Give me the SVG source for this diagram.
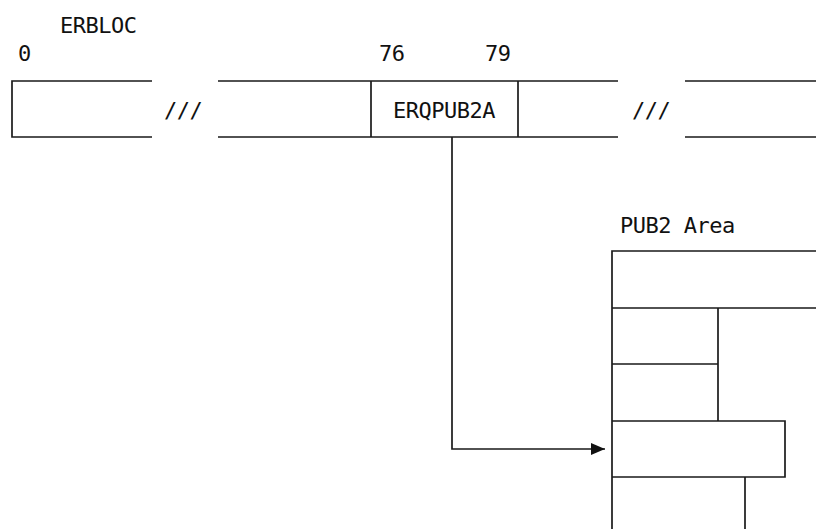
<svg xmlns="http://www.w3.org/2000/svg" width="816" height="529" viewBox="0 0 816 529">
<defs>
<style>
.t{font-family:"DejaVu Sans Mono","Liberation Mono",monospace;font-size:22px;letter-spacing:-0.5px;fill:#111}
.s{fill:none;stroke:#1a1a1a;stroke-width:1.7}
</style>
<marker id="ah" markerWidth="14" markerHeight="12" refX="14" refY="6" orient="auto" markerUnits="userSpaceOnUse">
<path d="M0,0 L14,6 L0,12 Z" fill="#111"/>
</marker>
</defs>
<rect width="816" height="529" fill="#fff"/>
<g id="labels">
<text class="t" x="60" y="33">ERBLOC</text>
<text class="t" x="18" y="61">0</text>
<text class="t" x="379" y="61">76</text>
<text class="t" x="485" y="61">79</text>
<text class="t" x="620" y="233">PUB2 Area</text>
</g>
<g id="erbloc">
<path class="s" d="M152,81 H12 V137 H152"/>
<text class="t" x="164" y="118">///</text>
<path class="s" d="M218,81 H618 M218,137 H618 M371,81 V137 M518,81 V137"/>
<text class="t" x="393" y="118">ERQPUB2A</text>
<text class="t" x="632" y="118">///</text>
<path class="s" d="M685,81 H816 M685,137 H816"/>
</g>
<g id="pub2area">
<path class="s" d="M816,251 H612 V529 M612,308 H816 M718,308 V421 M612,364 H718 M612,421 H785 V477 H612 M745,477 V529"/>
</g>
<g id="connectors">
<path class="s" d="M452,137 V449 H605" marker-end="url(#ah)"/>
</g>
</svg>
